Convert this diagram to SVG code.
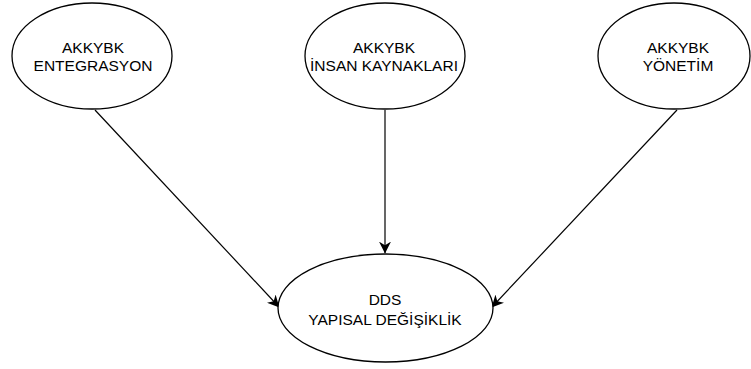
<svg xmlns="http://www.w3.org/2000/svg" width="751" height="369" viewBox="0 0 751 369">
<style>
.node ellipse{fill:#fff;stroke:#000;stroke-width:1.3}
.node text{font-family:"Liberation Sans",Arial,sans-serif;font-size:15.5px;fill:#000;text-anchor:middle}
.edges line{stroke:#000;stroke-width:1.2}
</style>
<defs>
<marker id="arr" viewBox="0 0 10 10" refX="9.5" refY="5" markerWidth="12" markerHeight="12" markerUnits="userSpaceOnUse" orient="auto">
<path d="M0,0 L10,5 L0,10 L3,5 Z" fill="#000"/>
</marker>
</defs>
<rect width="751" height="369" fill="#fff"/>
<g class="edges">
<line x1="95" y1="110" x2="279" y2="307" marker-end="url(#arr)"/>
<line x1="385" y1="110" x2="385" y2="253" marker-end="url(#arr)"/>
<line x1="677" y1="110" x2="492" y2="307" marker-end="url(#arr)"/>
</g>
<g id="n1" class="node">
<ellipse cx="92" cy="56" rx="80" ry="53"/>
<text x="93" y="53">AKKYBK</text>
<text x="93" y="71">ENTEGRASYON</text>
</g>
<g id="n2" class="node">
<ellipse cx="385" cy="56" rx="80" ry="53"/>
<text x="384" y="53">AKKYBK</text>
<text x="384" y="71">İNSAN KAYNAKLARI</text>
</g>
<g id="n3" class="node">
<ellipse cx="674" cy="56" rx="76" ry="53"/>
<text x="678" y="53">AKKYBK</text>
<text x="678" y="71">YÖNETİM</text>
</g>
<g id="n4" class="node">
<ellipse cx="385.5" cy="308" rx="107.5" ry="54"/>
<text x="385" y="305">DDS</text>
<text x="385" y="325">YAPISAL DEĞİŞİKLİK</text>
</g>
</svg>
